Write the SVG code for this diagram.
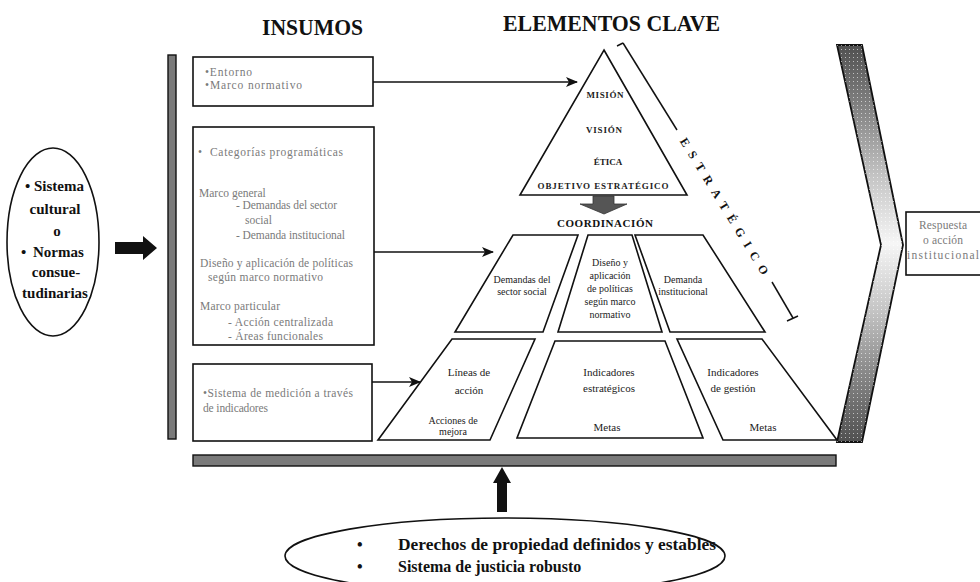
<svg xmlns="http://www.w3.org/2000/svg" width="980" height="582" viewBox="0 0 980 582">
<style>
text{font-family:"Liberation Serif","Times New Roman",serif;}
.title{font-weight:bold;fill:#111;}
.ins{font-size:11.5px;fill:#7a7a7a;}
.box{fill:#fff;stroke:#111;stroke-width:1.6;}
.shape{fill:#fff;stroke:#111;stroke-width:1.6;stroke-linejoin:miter;}
.lbl{font-size:10px;fill:#222;text-anchor:middle;}
.lbl2{font-size:11px;fill:#222;text-anchor:middle;}
.pyr{font-size:9px;fill:#222;text-anchor:middle;font-weight:bold;}
.bar{fill:#7a7a7a;stroke:#111;stroke-width:1.4;}
.thin{stroke:#111;stroke-width:1.5;fill:none;}
.big{font-size:15px;font-weight:bold;fill:#111;text-anchor:middle;}
.bot{font-size:16px;font-weight:bold;fill:#111;}
</style>
<defs>
<marker id="ah" markerWidth="12" markerHeight="10" refX="11" refY="5" orient="auto" markerUnits="userSpaceOnUse">
<path d="M0,0 L12,5 L0,10 L3,5 Z" fill="#111"/>
</marker>
<linearGradient id="chev" gradientUnits="userSpaceOnUse" x1="0" y1="45" x2="0" y2="442">
<stop offset="0" stop-color="#505050"/>
<stop offset="0.18" stop-color="#8a8a8a"/>
<stop offset="0.33" stop-color="#c4c4c4"/>
<stop offset="0.5" stop-color="#f6f6f6"/>
<stop offset="0.67" stop-color="#c4c4c4"/>
<stop offset="0.82" stop-color="#8a8a8a"/>
<stop offset="1" stop-color="#505050"/>
</linearGradient>
<pattern id="dots" width="4" height="4" patternUnits="userSpaceOnUse">
<rect x="1" y="1" width="1" height="1" fill="#fff" opacity="0.6"/>
</pattern>
</defs>

<g id="titles">
<text class="title" x="262" y="35" font-size="23" textLength="101" lengthAdjust="spacingAndGlyphs">INSUMOS</text>
<text class="title" x="503" y="31" font-size="23" textLength="217" lengthAdjust="spacingAndGlyphs">ELEMENTOS CLAVE</text>
</g>

<g id="left-bar"><rect class="bar" x="168" y="55" width="8" height="384"/></g>
<g id="bottom-bar"><rect class="bar" x="193" y="455" width="643" height="11"/></g>

<g id="ellipse-left">
<ellipse cx="53" cy="242" rx="46" ry="94" fill="#fff" stroke="#111" stroke-width="1.6"/>
<text class="big" x="25" y="191" style="text-anchor:start">•</text>
<text class="big" x="34" y="191" style="text-anchor:start">Sistema</text>
<text class="big" x="55" y="214">cultural</text>
<text class="big" x="57" y="236">o</text>
<text class="big" x="21" y="257" style="text-anchor:start">•</text>
<text class="big" x="33" y="257" style="text-anchor:start">Normas</text>
<text class="big" x="56" y="277">consue-</text>
<text class="big" x="55" y="298">tudinarias</text>
</g>

<g id="box-entorno">
<rect class="box" x="193" y="57" width="180" height="49"/>
<text class="ins" x="205" y="76" textLength="47">•Entorno</text>
<text class="ins" x="205" y="89" textLength="97">•Marco normativo</text>
</g>

<g id="box-categorias">
<rect class="box" x="193" y="127" width="181" height="218"/>
<text class="ins" x="198" y="156">•</text>
<text class="ins" x="210" y="156" textLength="133">Categorías programáticas</text>
<text class="ins" x="199" y="197">Marco general</text>
<text class="ins" x="236" y="209" textLength="101">- Demandas del sector</text>
<text class="ins" x="245" y="224">social</text>
<text class="ins" x="236" y="239" textLength="109">- Demanda institucional</text>
<text class="ins" x="200" y="267" textLength="153">Diseño y aplicación de políticas</text>
<text class="ins" x="208" y="281" textLength="115">según marco normativo</text>
<text class="ins" x="200" y="310" textLength="80">Marco particular</text>
<text class="ins" x="228" y="326" textLength="105">- Acción centralizada</text>
<text class="ins" x="228" y="340" textLength="95">- Áreas funcionales</text>
</g>

<g id="box-medicion">
<rect class="box" x="193" y="364" width="179" height="77"/>
<text class="ins" x="203" y="397" textLength="150">•Sistema de medición a través</text>
<text class="ins" x="203" y="412" textLength="65">de indicadores</text>
</g>

<g id="triangle">
<polygon class="shape" points="604,50 687,195 520,195"/>
<text class="pyr" x="605" y="98" textLength="37">MISIÓN</text>
<text class="pyr" x="604" y="133" textLength="36">VISIÓN</text>
<text class="pyr" x="608" y="165">ÉTICA</text>
<text class="pyr" x="603" y="189" textLength="131" font-size="8.5">OBJETIVO ESTRATÉGICO</text>
</g>

<g id="coordinacion">
<text class="title" x="605" y="227" font-size="11" text-anchor="middle" textLength="96">COORDINACIÓN</text>
</g>

<g id="demandas-sector">
<polygon class="shape" points="513,235 578,235 543,332 455,332"/>
<text class="lbl" x="522" y="283">Demandas del</text>
<text class="lbl" x="522" y="295">sector social</text>
</g>
<g id="diseno">
<polygon class="shape" points="588,235 632,235 662,332 558,332"/>
<text class="lbl" x="610" y="266">Diseño y</text>
<text class="lbl" x="610" y="279">aplicación</text>
<text class="lbl" x="610" y="292">de políticas</text>
<text class="lbl" x="610" y="305">según marco</text>
<text class="lbl" x="610" y="318">normativo</text>
</g>
<g id="demanda-inst">
<polygon class="shape" points="635,235 703,235 765,332 670,332"/>
<text class="lbl" x="683" y="283" font-size="9.5">Demanda</text>
<text class="lbl" x="683" y="295" font-size="9.5">institucional</text>
</g>

<g id="lineas-accion">
<polygon class="shape" points="452,339 535,339 490,440 378,440"/>
<text class="lbl2" x="469" y="376">Líneas de</text>
<text class="lbl2" x="469" y="394">acción</text>
<text class="lbl" x="453" y="424" font-size="9.5">Acciones de</text>
<text class="lbl" x="453" y="435" font-size="9.5">mejora</text>
</g>
<g id="ind-estrategicos">
<polygon class="shape" points="555,341 665,341 703,438 517,438"/>
<text class="lbl2" x="609" y="376">Indicadores</text>
<text class="lbl2" x="609" y="392">estratégicos</text>
<text class="lbl2" x="607" y="431">Metas</text>
</g>
<g id="ind-gestion">
<polygon class="shape" points="677,339 762,339 837,440 723,440"/>
<text class="lbl2" x="733" y="376">Indicadores</text>
<text class="lbl2" x="733" y="392">de gestión</text>
<text class="lbl2" x="763" y="431">Metas</text>
</g>

<g id="estrategico">
<line class="thin" x1="623" y1="43" x2="677" y2="130"/>
<line class="thin" x1="617" y1="46" x2="623" y2="43"/>
<line class="thin" x1="772" y1="282" x2="793" y2="318"/>
<line class="thin" x1="787" y1="321" x2="798" y2="316"/>
<text transform="translate(683,139) rotate(58.5)" x="0" y="4" font-size="12" font-weight="bold" fill="#111" textLength="158" lengthAdjust="spacing">ESTRATÉGICO</text>
</g>

<g id="chevron">
<polygon points="837,45 862,45 903,245 862,442 837,442 881,245" fill="url(#chev)" stroke="#111" stroke-width="1.8"/>
<polygon points="837,45 862,45 903,245 862,442 837,442 881,245" fill="url(#dots)" stroke="none"/>
</g>

<g id="respuesta">
<rect class="box" x="906" y="212" width="80" height="63"/>
<text class="ins" x="943" y="229" font-size="10" text-anchor="middle" textLength="48">Respuesta</text>
<text class="ins" x="943" y="244" font-size="10" text-anchor="middle" textLength="40">o acción</text>
<text class="ins" x="943" y="259" font-size="10" text-anchor="middle" textLength="72">institucional</text>
</g>

<g id="ellipse-bottom">
<ellipse cx="505" cy="556" rx="220" ry="38" fill="#fff" stroke="#111" stroke-width="1.6"/>
<text class="bot" x="357" y="550">•</text>
<text class="bot" x="398" y="550" textLength="318" lengthAdjust="spacingAndGlyphs">Derechos de propiedad definidos y estables</text>
<text class="bot" x="357" y="572">•</text>
<text class="bot" x="398" y="572">Sistema de justicia robusto</text>
</g>

<g id="connectors">
<line class="thin" x1="373" y1="82" x2="577" y2="82" marker-end="url(#ah)"/>
<line class="thin" x1="374" y1="252" x2="493" y2="252" marker-end="url(#ah)"/>
<line class="thin" x1="372" y1="382" x2="420" y2="382" marker-end="url(#ah)"/>
<polygon points="115,242 143,242 143,236 157,248 143,260 143,254 115,254" fill="#111"/>
<polygon points="497,512 497,483 493,483 502,467 511,483 507,483 507,512" fill="#111"/>
<polygon points="593,196 614,196 614,204 627,204 604,214 580,204 593,204" fill="#555" stroke="#333" stroke-width="0.8"/>
</g>
</svg>
